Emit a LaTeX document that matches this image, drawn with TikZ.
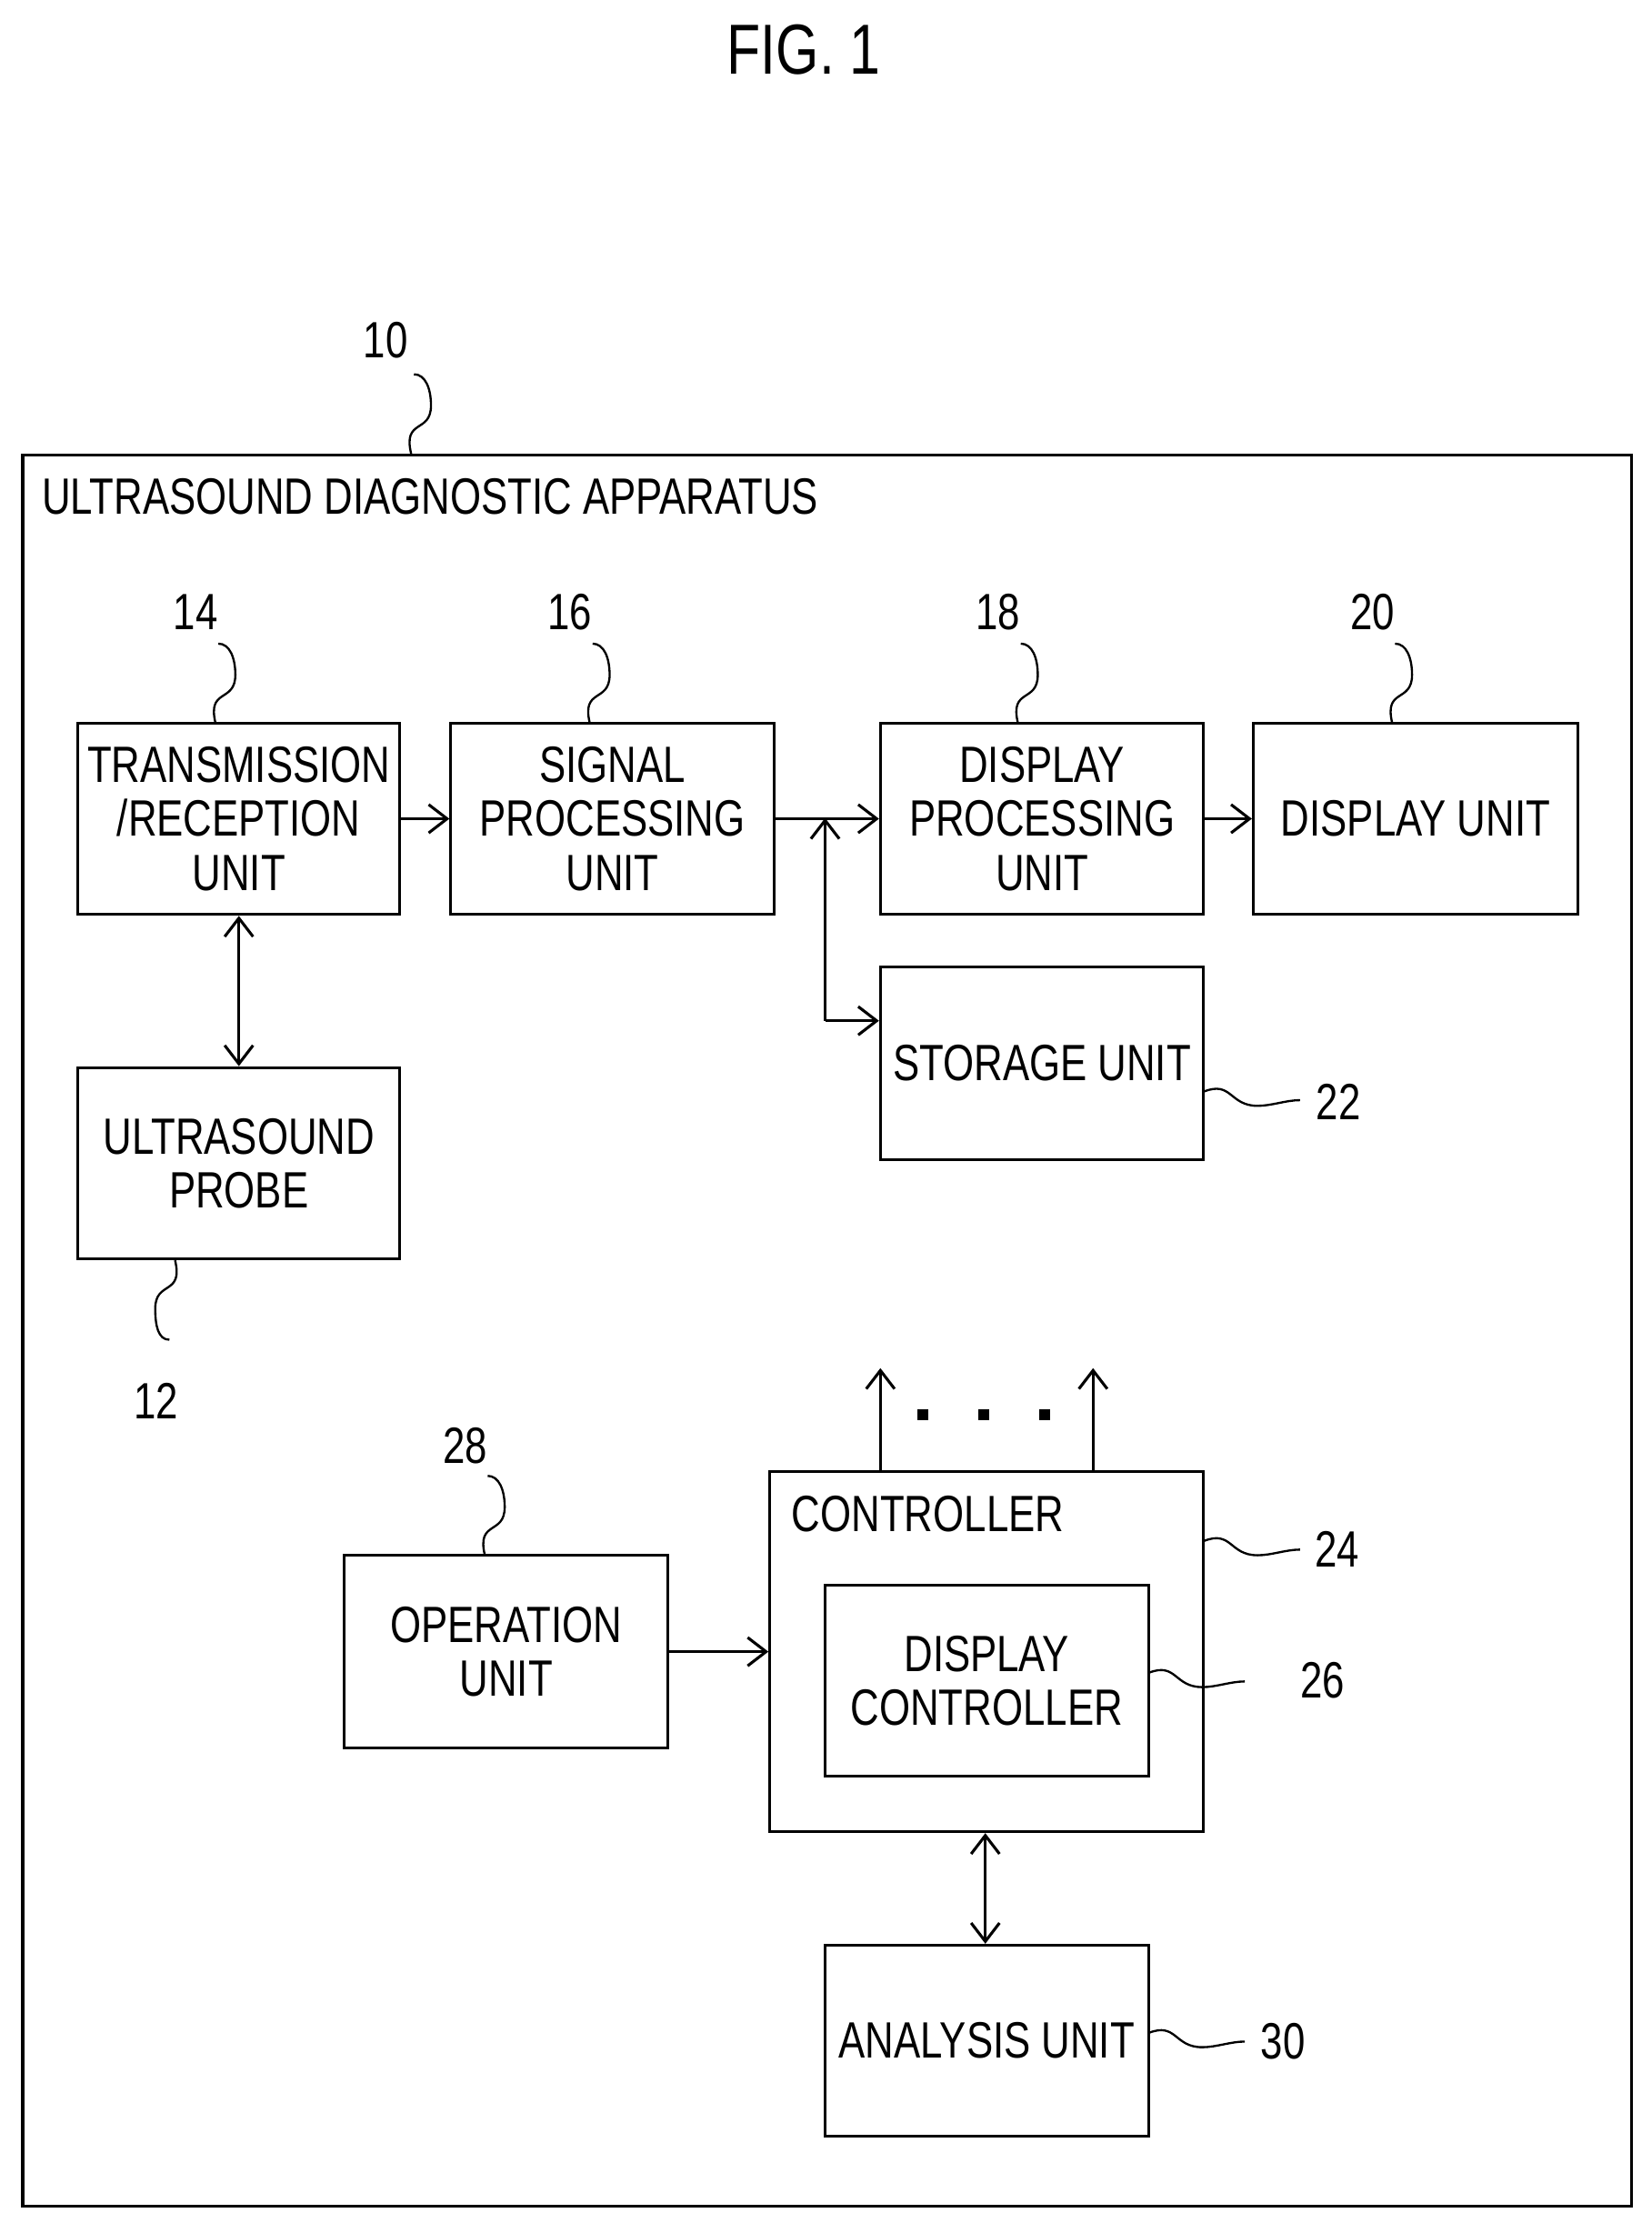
\documentclass[tikz,border=0pt]{standalone}
\usepackage{fontspec}
\setmainfont{Liberation Sans}[FakeStretch=0.78]
\usetikzlibrary{arrows.meta}
\begin{document}
\begin{tikzpicture}[x=1pt,y=-1pt,
 box/.style={draw,line width=2pt,align=center,inner sep=0pt,font=\fontsize{36}{38}\selectfont},
 lbl/.style={font=\fontsize{36}{38}\selectfont},
 ar/.style={line width=2pt,-{Straight Barb[length=13pt,width=20pt,line width=2pt]}},
 dar/.style={line width=2pt,{Straight Barb[length=13pt,width=20pt,line width=2pt]}-{Straight Barb[length=13pt,width=20pt,line width=2pt]}},
 ld/.style={line width=1.5pt}]
\useasboundingbox (0,0) rectangle (1165,1568);
\node[font=\fontsize{50}{52}\selectfont] (fig) at (567,35) {FIG. 1};
\node[draw,line width=2pt,minimum width=1135pt,minimum height=1235pt,anchor=north west,inner sep=0pt] (app) at (15,320) {};
\node[lbl,anchor=west] (appl) at (26,350) {ULTRASOUND DIAGNOSTIC APPARATUS};
\def\bx#1#2#3#4#5#6{\node[box,minimum width=#4-#2,minimum height=#5-#3] (#1) at ({(#2+#4)/2},{(#3+#5)/2}) {#6};}
\bx{tr}{55}{510}{282}{645}{TRANSMISSION\\/RECEPTION\\UNIT}
\bx{sp}{318}{510}{546}{645}{SIGNAL\\PROCESSING\\UNIT}
\bx{dp}{621}{510}{849}{645}{DISPLAY\\PROCESSING\\UNIT}
\bx{du}{884}{510}{1113}{645}{DISPLAY UNIT}
\bx{st}{621}{682}{849}{818}{STORAGE UNIT}
\bx{pr}{55}{753}{282}{888}{ULTRASOUND\\PROBE}
\bx{op}{243}{1097}{471}{1233}{OPERATION\\UNIT}
\bx{ct}{543}{1038}{849}{1292}{}
\node[lbl,anchor=west] (ctl) at (555,1068) {CONTROLLER};
\bx{dc}{582}{1118}{810}{1253}{DISPLAY\\CONTROLLER}
\bx{an}{582}{1372}{810}{1507}{ANALYSIS UNIT}
% vertical squiggle leaders (top/bottom)
\def\vsq#1#2#3{\draw[ld] (#1,#2) .. controls ++(-6,-25) and ++(0,20) .. ++(14,-34) .. controls ++(0,-12) and ++(8,0) .. ++(-12,-22);}
\node[lbl] (n10) at (272,240) {10}; \vsq{290}{320}{}
\node[lbl] (n14) at (138,432) {14}; \vsq{152}{510}{}
\node[lbl] (n16) at (402,432) {16}; \vsq{416}{510}{}
\node[lbl] (n18) at (704,432) {18}; \vsq{718}{510}{}
\node[lbl] (n20) at (968,432) {20}; \vsq{982}{510}{}
\node[lbl] (n28) at (328,1020) {28}; \vsq{342}{1097}{}
\node[lbl] (n12) at (110,988) {12};
\draw[ld] (pr.south) ++(-45,0) .. controls ++(6,25) and ++(0,-20) .. ++(-14,34) .. controls ++(0,12) and ++(-8,0) .. ++(10,22);
% horizontal squiggle leaders (right side)
\def\hsq#1#2{\draw[ld] (#1) .. controls ++(20,-8) and ++(-20,0) .. ++(38,10) .. controls ++(10,0) and ++(-10,0) .. ++(30,-4);}
\node[lbl] (n22) at (944,777) {22}; \hsq{849,770}{}
\node[lbl] (n24) at (943,1093) {24}; \hsq{849,1087}{}
\node[lbl] (n26) at (933,1185) {26}; \hsq{810,1180}{}
\node[lbl] (n30) at (905,1440) {30}; \hsq{810,1434}{}
% connectors
\draw[ar] (tr.east) -- (sp.west);
\draw[ar] (sp.east) -- (dp.west);
\draw[ar] (dp.east) -- (du.west);
\coordinate (j) at (582,577);
\coordinate (j2) at (582,720);
\draw[ar] (j2) -- (j);
\draw[ar] (j2) -- (st.west |- j2);
\draw[dar] (tr.south) -- (pr.north);
\draw[ar] (op.east |- 0,1165) -- (ct.west |- 0,1165);
\draw[dar] (ct.south -| 695,0) -- (an.north -| 695,0);
\coordinate (u1) at (621,965); \coordinate (u2) at (771,965);
\draw[ar] (ct.north -| u1) -- (u1);
\draw[ar] (ct.north -| u2) -- (u2);
\foreach \x in {651,694,737} \fill (\x-4,994) rectangle (\x+4,1002);
\end{tikzpicture}
\end{document}
